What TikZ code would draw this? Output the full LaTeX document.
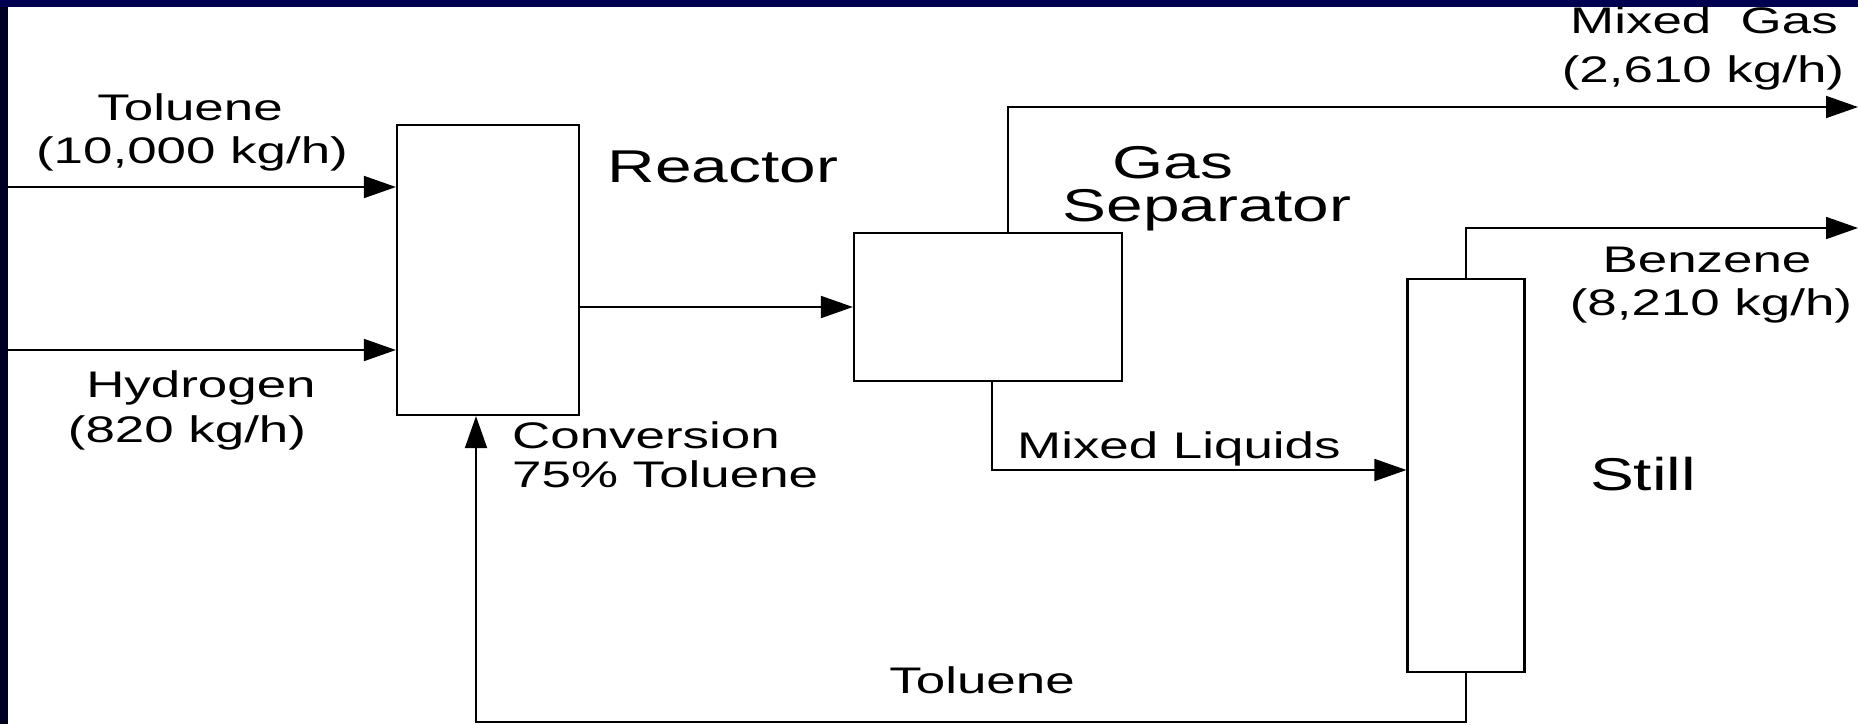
\documentclass[tikz,border=0pt]{standalone}
\usepackage{fontspec}
\setmainfont{Liberation Sans}[FakeStretch=1.43]
\usetikzlibrary{arrows.meta}
\definecolor{navyband}{RGB}{0,0,80}
\definecolor{darkband}{RGB}{0,0,35}
\begin{document}
\begin{tikzpicture}[x=1pt,y=-1pt,
  unit/.style={draw, line width=2.2pt, minimum width=#1, inner sep=0pt},
  flow/.style={line width=1.8pt, -{Triangle[length=32pt,width=22pt]}},
  pipe/.style={line width=1.8pt},
  small/.style={font=\fontsize{37}{40}\selectfont, anchor=base, inner sep=0pt},
  big/.style={font=\fontsize{46}{50}\selectfont, anchor=base, inner sep=0pt}]
\useasboundingbox (0,0) rectangle (1858,724);
\fill[navyband] (0,0) rectangle (1858,724);
\fill[darkband] (0,7) rectangle (8,724);
\fill[white] (8,7) rectangle (1858,724);

% units
\node[unit=182pt, minimum height=290pt] (reactor) at (488,270) {};
\node[unit=268pt, minimum height=148pt] (sep) at (988,307) {};
\node[unit=117pt, minimum height=393pt] (still) at (1466,475.5) {};

% coordinates
\coordinate (tin) at (8,187);
\coordinate (hin) at (8,350);
\coordinate (gasup) at (1008,107);
\coordinate (gasout) at (1858,107);
\coordinate (bzup) at (1466,228);
\coordinate (bzout) at (1858,228);
\coordinate (liq) at (992,470);
\coordinate (rc) at (476,722);

% connectors
\draw[flow] (tin) -- (tin -| reactor.west);
\draw[flow] (hin) -- (hin -| reactor.west);
\draw[flow] (reactor.east |- sep.west) -- (sep.west);
\draw[flow] (sep.north -| gasup) -- (gasup) -- (gasout);
\draw[flow] (still.north) -- (bzup) -- (bzout);
\draw[flow] (sep.south -| liq) -- (liq) -- (liq -| still.west);
\draw[flow] (still.south) |- (rc) -- (rc |- reactor.south);

% labels
\node[small] (l1) at (190,120) {Toluene};
\node[small] (l2) at (192,163) {(10,000 kg/h)};
\node[small] (l3) at (201,397) {Hydrogen};
\node[small] (l4) at (187,442) {(820 kg/h)};
\node[big] (l5) at (723,182) {Reactor};
\node[big] (l6) at (1173,178) {Gas};
\node[big] (l7) at (1207,221) {Separator};
\node[small] (l8) at (1704,33) {Mixed\ \ Gas};
\node[small] (l9) at (1703,82) {(2,610 kg/h)};
\node[small] (l10) at (1707,272) {Benzene};
\node[small] (l11) at (1711,315) {(8,210 kg/h)};
\node[small, anchor=base west] (l12) at (512,448) {Conversion};
\node[small, anchor=base west] (l13) at (512,487) {75\% Toluene};
\node[small, anchor=base west] (l14) at (1017,458) {Mixed Liquids};
\node[big] (l15) at (1643,490) {Still};
\node[small] (l16) at (982,693) {Toluene};
\end{tikzpicture}
\end{document}
